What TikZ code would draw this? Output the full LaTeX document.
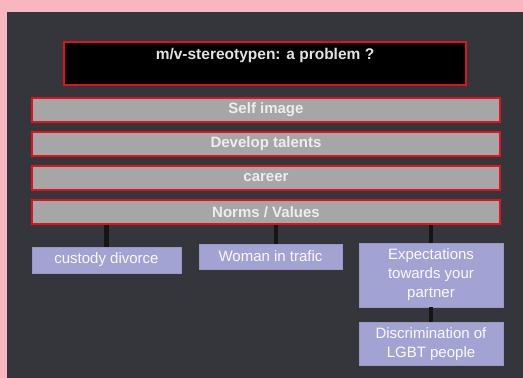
\documentclass[tikz,border=0pt]{standalone}
\usepackage{fontspec}
\setmainfont{Liberation Sans}
\usepackage{tikz}
\usetikzlibrary{positioning}

\definecolor{bgpink}{HTML}{F8B7C0}
\definecolor{panel}{HTML}{35363C}
\definecolor{barred}{HTML}{E0121E}
\definecolor{bargray}{HTML}{A6A6A6}
\definecolor{bartext}{HTML}{EDEDED}
\definecolor{lavender}{HTML}{A3A3D3}
\definecolor{lavedge}{HTML}{9898C4}
\definecolor{linkblack}{HTML}{151515}

\begin{document}
\begin{tikzpicture}[
    x=1pt, y=-1pt,
    node distance=8pt,
    titlebox/.style={rectangle, draw=barred, line width=2pt, fill=black, minimum width=402pt, inner ysep=4pt, text height=13pt, text depth=22pt, text=bartext!90!gray, font=\fontsize{15.5}{18}\selectfont\bfseries},
    bar/.style={rectangle, draw=barred, line width=2pt, fill=bargray, minimum width=468pt, minimum height=24pt, inner sep=0pt, text=bartext, font=\fontsize{15}{18}\selectfont\bfseries},
    item/.style={rectangle, fill=lavender, draw=lavedge, line width=0.8pt, align=center, inner sep=0pt, text=white!95!lavender, font=\fontsize{15}{19}\selectfont},
    link/.style={line width=4.5pt, draw=linkblack}
]

% background and panel
\fill[bgpink] (0,0) rectangle (523,378);
\fill[panel] (7,12) rectangle (523,378);
\useasboundingbox (0,0) rectangle (523,378);

\node[titlebox] (title) at (265,63.5) {m/v-stereotypen: a problem ?};

\node[bar] (self) at (266,110) {Self image};
\node[bar, below=of self] (talents) {Develop talents};
\node[bar, below=of talents] (career) {career};
\node[bar, below=of career] (norms) {Norms / Values};

\node[item, minimum width=149pt, minimum height=26pt] (custody) at (106.5,260) {custody divorce};
\node[item, minimum width=143pt, minimum height=25pt] (trafic) at (270.5,256.5) {Woman in trafic};
\node[item, minimum width=144pt, minimum height=64pt] (expect) at (431,275) {Expectations\\towards your\\partner};
\node[item, minimum width=144pt, minimum height=43pt, below=15pt of expect] (lgbt) {Discrimination of\\LGBT people};

\coordinate (traficin) at ([xshift=5.5pt]trafic.north);

\draw[link] (norms.south -| custody.north) -- (custody.north);
\draw[link] (norms.south -| traficin) -- (traficin);
\draw[link] (norms.south -| expect.north) -- (expect.north);
\draw[link] (expect) -- (lgbt);

\end{tikzpicture}
\end{document}
